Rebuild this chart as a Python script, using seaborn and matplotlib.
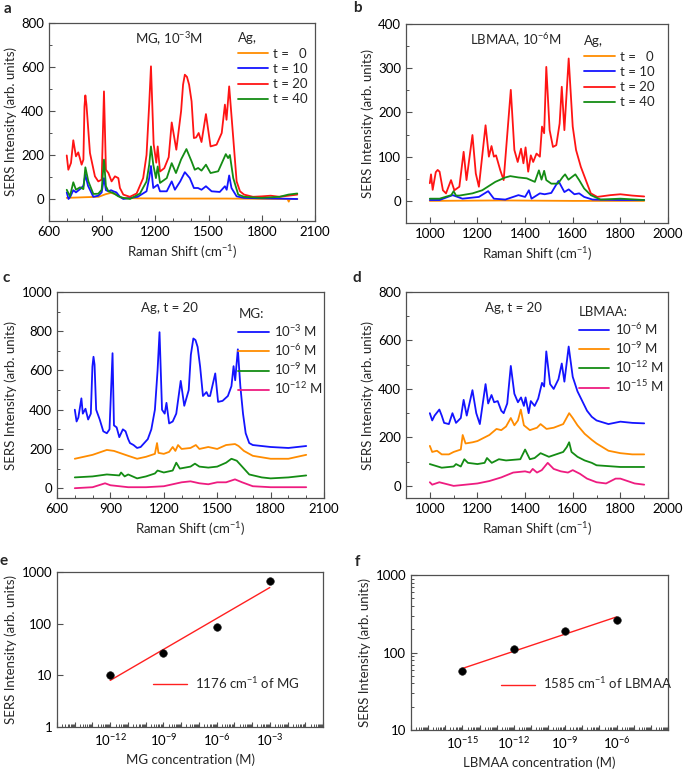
import numpy as np
import seaborn as sns
import matplotlib.pyplot as plt
from matplotlib.ticker import MultipleLocator, FixedLocator, FuncFormatter, NullFormatter

# ---- panel a: MG 1e-3 M, Ag growth time ----
a_t0_x = [700, 800, 880, 920, 950, 980, 1010, 1100, 1300, 1600, 1900, 1945, 1952, 1958, 2000]
a_t0_y = [5, 8, 10, 22, 28, 20, 5, 3, 2, 2, 0, 0, -12, 0, 0]
a_t10_x = [700, 710, 720, 737, 752, 775, 794, 805, 820, 850, 878, 897, 910, 921, 935, 950, 963, 980,
           1000, 1019, 1100, 1150, 1165, 1175, 1188, 1213, 1226, 1264, 1292, 1310, 1340, 1366, 1394,
           1417, 1440, 1460, 1485, 1517, 1563, 1592, 1602, 1616, 1629, 1658, 1700, 1800, 1900, 2000]
a_t10_y = [30, 0, 10, 40, 30, 45, 60, 110, 60, 10, 15, 30, 95, 40, 35, 40, 35, 30,
           10, 0, 10, 35, 95, 150, 50, 65, 35, 35, 80, 42, 80, 122, 95,
           50, 50, 42, 58, 35, 32, 58, 42, 107, 50, 12, 5, 3, 2, 0]
a_t20_x = [700, 709, 724, 737, 752, 765, 784, 794, 800, 805, 811, 816, 831, 859, 878, 897, 910, 921,
           935, 953, 972, 991, 1000, 1019, 1056, 1094, 1131, 1150, 1165, 1175, 1190, 1205, 1213, 1226,
           1250, 1275, 1292, 1318, 1345, 1356, 1366, 1378, 1390, 1404, 1417, 1430, 1444, 1460, 1485,
           1511, 1545, 1574, 1592, 1601, 1616, 1639, 1658, 1677, 1700, 1750, 1800, 1850, 1900, 1950, 2000]
a_t20_y = [198, 133, 164, 267, 194, 212, 156, 179, 420, 471, 430, 376, 209, 103, 80, 88, 489, 133,
           118, 80, 103, 95, 50, 20, 10, 25, 95, 200, 430, 603, 250, 165, 239, 125,
           140, 190, 348, 224, 400, 520, 565, 555, 520, 444, 277, 280, 300, 259, 386,
           239, 247, 300, 429, 360, 512, 277, 80, 35, 20, 10, 12, 15, 10, 15, 20]
a_t40_x = [700, 718, 737, 752, 775, 794, 805, 822, 850, 878, 897, 910, 921, 935, 963, 991, 1019, 1057,
           1113, 1150, 1165, 1175, 1188, 1203, 1213, 1226, 1264, 1292, 1316, 1345, 1375, 1404, 1422,
           1441, 1460, 1485, 1511, 1554, 1597, 1610, 1620, 1639, 1667, 1700, 1800, 1900, 1950, 2000]
a_t40_y = [42, 12, 76, 42, 53, 45, 144, 80, 23, 24, 42, 179, 58, 35, 27, 12, 5, 0,
           25, 80, 156, 239, 156, 95, 148, 73, 95, 163, 118, 180, 227, 171, 133,
           141, 129, 156, 118, 126, 204, 186, 200, 95, 20, 10, 5, 10, 20, 25]

# ---- panel b: LBMAA 1e-6 M, Ag growth time ----
b_t0_x = [1000, 1300, 1600, 1900]
b_t0_y = [0, 1, 0, 0]
b_t10_x = [1000, 1041, 1096, 1137, 1206, 1245, 1269, 1317, 1372, 1400, 1416, 1427, 1462, 1482,
           1510, 1540, 1565, 1583, 1607, 1627, 1648, 1683, 1800, 1900]
b_t10_y = [2, 2, 13, 5, 9, 22, 5, 3, 13, 9, 24, 5, 17, 15, 18, 45, 20, 26, 15, 17, 9, 3, 2, 2]
b_t20_x = [1000, 1005, 1012, 1025, 1033, 1041, 1055, 1068, 1089, 1103, 1124, 1142, 1154, 1179,
           1193, 1206, 1234, 1248, 1259, 1269, 1278, 1296, 1310, 1340, 1355, 1369, 1383, 1393,
           1402, 1413, 1424, 1434, 1448, 1462, 1471, 1480, 1489, 1503, 1517, 1531, 1545, 1554,
           1565, 1583, 1600, 1614, 1634, 1655, 1676, 1703, 1758, 1800, 1850, 1900]
b_t20_y = [40, 60, 25, 65, 70, 66, 24, 17, 47, 24, 32, 111, 47, 149,
           62, 32, 171, 100, 124, 100, 103, 69, 47, 251, 115, 88, 118, 85,
           121, 66, 103, 88, 107, 100, 168, 153, 303, 160, 122, 126, 175, 258,
           160, 322, 168, 115, 77, 47, 17, 9, 13, 15, 12, 10]
b_t40_x = [1000, 1041, 1090, 1100, 1110, 1124, 1179, 1220, 1275, 1317, 1338, 1372, 1407, 1441,
           1458, 1469, 1480, 1489, 1510, 1538, 1558, 1568, 1582, 1611, 1627, 1648, 1676, 1717, 1800, 1900]
b_t40_y = [5, 5, 13, 22, 12, 12, 17, 24, 43, 53, 56, 53, 51, 43,
           69, 48, 68, 47, 39, 39, 54, 60, 48, 60, 47, 28, 13, 3, 5, 2]

# ---- panel c: MG concentrations, Ag t = 20 ----
c_m3_x = [700, 710, 720, 737, 745, 760, 775, 790, 799, 805, 811, 820, 840, 860, 880, 895, 912, 920,
          935, 950, 970, 985, 1000, 1010, 1030, 1050, 1070, 1090, 1110, 1130, 1150, 1165, 1176, 1190,
          1205, 1215, 1230, 1250, 1270, 1295, 1315, 1340, 1352, 1366, 1378, 1390, 1404, 1420, 1440,
          1450, 1460, 1489, 1505, 1530, 1560, 1580, 1592, 1601, 1616, 1630, 1645, 1660, 1680, 1700,
          1800, 1900, 2000]
c_m3_y = [400, 340, 360, 458, 380, 405, 350, 380, 620, 670, 630, 400, 350, 290, 280, 300, 688, 320,
          310, 260, 300, 290, 250, 230, 220, 205, 210, 230, 250, 300, 400, 600, 795, 400,
          380, 435, 330, 340, 380, 547, 420, 500, 680, 763, 755, 720, 620, 470, 490,
          470, 470, 585, 440, 445, 470, 520, 622, 550, 708, 520, 380, 280, 230, 220,
          210, 205, 215]
c_m6_x = [700, 800, 880, 920, 1000, 1050, 1100, 1150, 1162, 1170, 1200, 1230, 1250, 1265, 1280,
          1300, 1350, 1380, 1400, 1450, 1500, 1550, 1600, 1620, 1650, 1700, 1800, 1900, 2000]
c_m6_y = [150, 170, 195, 190, 165, 150, 160, 175, 230, 180, 175, 185, 210, 190, 220,
          200, 205, 220, 200, 210, 200, 220, 225, 215, 190, 165, 150, 150, 170]
c_m9_x = [700, 800, 880, 950, 960, 980, 1000, 1050, 1100, 1150, 1165, 1200, 1250, 1270, 1290,
          1350, 1375, 1400, 1450, 1500, 1550, 1580, 1610, 1640, 1680, 1750, 1800, 1900, 2000]
c_m9_y = [55, 60, 70, 65, 80, 60, 70, 50, 60, 75, 90, 80, 90, 130, 100,
          110, 125, 110, 105, 110, 130, 150, 140, 110, 70, 55, 50, 55, 65]
c_m12_x = [700, 800, 870, 900, 950, 1000, 1100, 1200, 1300, 1350, 1400, 1450, 1500, 1550, 1600,
           1640, 1700, 1800, 1900, 2000]
c_m12_y = [0, 5, 25, 15, 10, 5, 5, 10, 30, 35, 25, 20, 30, 30, 45, 30, 10, 5, 5, 5]

# ---- panel d: LBMAA concentrations, Ag t = 20 ----
d_m6_x = [1000, 1010, 1020, 1040, 1050, 1060, 1080, 1095, 1110, 1130, 1142, 1155, 1179, 1195, 1210,
          1234, 1245, 1259, 1270, 1285, 1300, 1310, 1325, 1340, 1355, 1370, 1383, 1395, 1402, 1415,
          1424, 1440, 1455, 1471, 1480, 1489, 1505, 1520, 1540, 1554, 1565, 1583, 1600, 1620, 1640,
          1660, 1680, 1700, 1750, 1800, 1850, 1900]
d_m6_y = [300, 270, 290, 315, 290, 260, 255, 300, 260, 280, 355, 290, 395, 300, 255,
          420, 340, 375, 345, 350, 310, 300, 340, 495, 380, 345, 365, 330, 365, 300,
          350, 330, 360, 425, 410, 555, 420, 400, 440, 505, 430, 575, 450, 390, 350,
          310, 285, 270, 255, 265, 260, 258]
d_m9_x = [1000, 1010, 1030, 1050, 1080, 1100, 1130, 1138, 1150, 1180, 1200, 1250, 1280, 1300, 1320,
          1340, 1355, 1370, 1382, 1395, 1420, 1450, 1465, 1490, 1520, 1560, 1585, 1600, 1620, 1650,
          1680, 1700, 1750, 1800, 1850, 1900]
d_m9_y = [165, 140, 145, 130, 130, 140, 150, 210, 175, 180, 185, 210, 235, 230, 245,
          280, 250, 270, 315, 250, 230, 240, 255, 235, 240, 255, 300, 280, 250, 215,
          190, 175, 145, 135, 130, 130]
d_m12_x = [1000, 1050, 1100, 1110, 1130, 1145, 1160, 1200, 1230, 1240, 1260, 1290, 1320, 1380,
           1400, 1420, 1440, 1465, 1500, 1530, 1560, 1575, 1585, 1595, 1620, 1650, 1680, 1700, 1800, 1900]
d_m12_y = [90, 75, 80, 90, 80, 110, 95, 90, 95, 115, 95, 110, 105, 110,
           150, 110, 115, 135, 120, 130, 140, 160, 180, 140, 120, 105, 95, 85, 78, 78]
d_m15_x = [1000, 1010, 1040, 1060, 1080, 1100, 1150, 1200, 1250, 1300, 1350, 1400, 1420, 1432,
           1450, 1470, 1495, 1520, 1550, 1580, 1600, 1630, 1660, 1700, 1740, 1780, 1800, 1830, 1860, 1900]
d_m15_y = [15, 5, 15, 10, 5, 0, 5, 10, 20, 35, 55, 60, 55, 70,
           55, 65, 95, 70, 60, 55, 65, 50, 30, 15, 10, 30, 30, 20, 10, 5]

# ---- panels e, f: calibration ----
e_conc = [1e-12, 1e-9, 1e-6, 1e-3]
e_int = [10, 27, 88, 670]
f_conc = [1e-15, 1e-12, 1e-9, 1e-6]
f_int = [58, 110, 190, 265]

ORANGE, BLUE, RED, GREEN, PINK = "#ff8c00", "#1414ff", "#ff1414", "#148c14", "#ee1c80"
FS = 9.5

sns.set_style("ticks")
plt.rcParams["font.family"] = ["Lato", "DejaVu Sans"]
plt.rcParams["mathtext.fontset"] = "custom"
plt.rcParams["mathtext.rm"] = "Lato"
plt.rcParams["mathtext.it"] = "Lato:italic"
plt.rcParams["mathtext.bf"] = "Lato:bold"
plt.rcParams["axes.edgecolor"] = "#505050"
plt.rcParams["xtick.color"] = "#505050"
plt.rcParams["ytick.color"] = "#505050"
plt.rcParams["xtick.labelcolor"] = "black"
plt.rcParams["ytick.labelcolor"] = "black"

W, H = 685, 769
fig = plt.figure(figsize=(W / 100, H / 100), dpi=100)


def box(l, t, r, b):
    return fig.add_axes([l / W, 1 - b / H, (r - l) / W, (b - t) / H])


def style_axes(ax):
    for s in ax.spines.values():
        s.set_linewidth(0.9)
    ax.tick_params(which="both", direction="in", labelsize=FS, top=False, right=False)
    ax.tick_params(which="major", length=4, width=0.8)
    ax.tick_params(which="minor", length=2.2, width=0.7)
    ax.set_ylabel("SERS Intensity (arb. units)", fontsize=FS, labelpad=3)


def spectrum(ax, series, xlim, ylim, xmaj, xmin, ymaj, ymin, note, note_x, title, leg_x, leg_y):
    for x, y, color, label in series:
        sns.lineplot(x=x, y=y, ax=ax, color=color, lw=1.3, label=label, sort=False)
    ax.set_xlim(*xlim)
    ax.set_ylim(*ylim)
    ax.xaxis.set_major_locator(MultipleLocator(xmaj))
    ax.xaxis.set_minor_locator(MultipleLocator(xmin))
    ax.yaxis.set_major_locator(MultipleLocator(ymaj))
    ax.yaxis.set_minor_locator(MultipleLocator(ymin))
    style_axes(ax)
    ax.set_xlabel("Raman Shift (cm$^{-1}$)", fontsize=FS, labelpad=4)
    ax.text(note_x, 0.92, note, transform=ax.transAxes, ha="center", va="center", fontsize=FS)
    ax.legend(title=title, loc="upper left", bbox_to_anchor=(leg_x, leg_y), frameon=False,
              fontsize=FS, title_fontsize=FS, handlelength=2.3, handletextpad=0.4,
              labelspacing=0.25, borderaxespad=0, alignment="left")


ax_a = box(49, 23, 315, 221)
spectrum(ax_a, [(a_t0_x, a_t0_y, ORANGE, "t =   0"), (a_t10_x, a_t10_y, BLUE, "t = 10"),
                (a_t20_x, a_t20_y, RED, "t = 20"), (a_t40_x, a_t40_y, GREEN, "t = 40")],
         (600, 2100), (-100, 800), 300, 100, 200, 100, "MG, 10$^{-3}$M", 0.45, "Ag,", 0.69, 0.98)

ax_b = box(406, 24, 668, 223)
spectrum(ax_b, [(b_t0_x, b_t0_y, ORANGE, "t =   0"), (b_t10_x, b_t10_y, BLUE, "t = 10"),
                (b_t20_x, b_t20_y, RED, "t = 20"), (b_t40_x, b_t40_y, GREEN, "t = 40")],
         (900, 2000), (-50, 400), 200, 100, 100, 50, "LBMAA, 10$^{-6}$M", 0.42, "Ag,", 0.66, 0.97)

ax_c = box(57, 292, 324, 498)
spectrum(ax_c, [(c_m3_x, c_m3_y, BLUE, "10$^{-3}$ M"), (c_m6_x, c_m6_y, ORANGE, "10$^{-6}$ M"),
                (c_m9_x, c_m9_y, GREEN, "10$^{-9}$ M"), (c_m12_x, c_m12_y, PINK, "10$^{-12}$ M")],
         (600, 2100), (-50, 1000), 300, 100, 200, 100, "Ag, t = 20", 0.42, "MG:", 0.66, 0.95)

ax_d = box(406, 292, 668, 498)
spectrum(ax_d, [(d_m6_x, d_m6_y, BLUE, "10$^{-6}$ M"), (d_m9_x, d_m9_y, ORANGE, "10$^{-9}$ M"),
                (d_m12_x, d_m12_y, GREEN, "10$^{-12}$ M"), (d_m15_x, d_m15_y, PINK, "10$^{-15}$ M")],
         (900, 2000), (-50, 800), 200, 100, 200, 100, "Ag, t = 20", 0.41, "LBMAA:", 0.64, 0.96)


def calibration(ax, conc, inten, xlim, ylim, shown, label, xlabel, leg_xy, yminor):
    # log-log linear fit, drawn across the measured range
    k, b = np.polyfit(np.log10(conc), np.log10(inten), 1)
    fit = 10 ** (k * np.log10(conc) + b)
    ax.set_xscale("log")
    ax.set_yscale("log")
    sns.lineplot(x=conc, y=fit, ax=ax, color="#ff2020", lw=1.0, label=label)
    sns.scatterplot(x=conc, y=inten, ax=ax, color="black", s=30, edgecolor="#222222", zorder=5)
    ax.set_xlim(*xlim)
    ax.set_ylim(*ylim)
    lo, hi = int(np.log10(xlim[0])), int(np.log10(xlim[1]))
    ax.xaxis.set_major_locator(FixedLocator(10.0 ** np.arange(lo, hi + 1)))
    ax.xaxis.set_minor_locator(FixedLocator([m * 10.0 ** d for d in range(lo, hi) for m in range(2, 10)]))
    ax.xaxis.set_major_formatter(FuncFormatter(
        lambda v, p: f"10$^{{{int(round(np.log10(v)))}}}$" if int(round(np.log10(v))) in shown else ""))
    ax.xaxis.set_minor_formatter(NullFormatter())
    ly0, ly1 = int(np.log10(ylim[0])), int(np.log10(ylim[1]))
    ax.yaxis.set_major_locator(FixedLocator(10.0 ** np.arange(ly0, ly1 + 1)))
    ax.yaxis.set_major_formatter(FuncFormatter(lambda v, p: f"{v:g}"))
    if yminor:
        ax.yaxis.set_minor_locator(FixedLocator([m * 10.0 ** d for d in range(ly0, ly1) for m in range(2, 10)]))
    else:
        ax.yaxis.set_minor_locator(FixedLocator([]))
    ax.yaxis.set_minor_formatter(NullFormatter())
    style_axes(ax)
    ax.tick_params(axis="x", which="major", length=3.5)
    ax.set_xlabel(xlabel, fontsize=FS, labelpad=4)
    ax.legend(loc="center left", bbox_to_anchor=leg_xy, frameon=False, fontsize=FS,
              handlelength=2.6, handletextpad=0.6, borderaxespad=0)


ax_e = box(57, 572, 323, 727)
calibration(ax_e, e_conc, e_int, (1e-15, 1), (1, 1000), (-12, -9, -6, -3),
            "1176 cm$^{-1}$ of MG", "MG concentration (M)", (0.34, 0.285), False)

ax_f = box(411, 575, 668, 730)
calibration(ax_f, f_conc, f_int, (1e-18, 1e-3), (10, 1000), (-15, -12, -9, -6),
            "1585 cm$^{-1}$ of LBMAA", "LBMAA concentration (M)", (0.33, 0.30), True)

for letter, px, py in [("a", 7, 9), ("b", 357, 8), ("c", 6, 278), ("d", 357, 278), ("e", 4, 561), ("f", 357, 562)]:
    fig.text(px / W, 1 - py / H, letter, fontsize=11, fontweight="bold", ha="center", va="center")

fig.savefig("out.png", dpi=100)
